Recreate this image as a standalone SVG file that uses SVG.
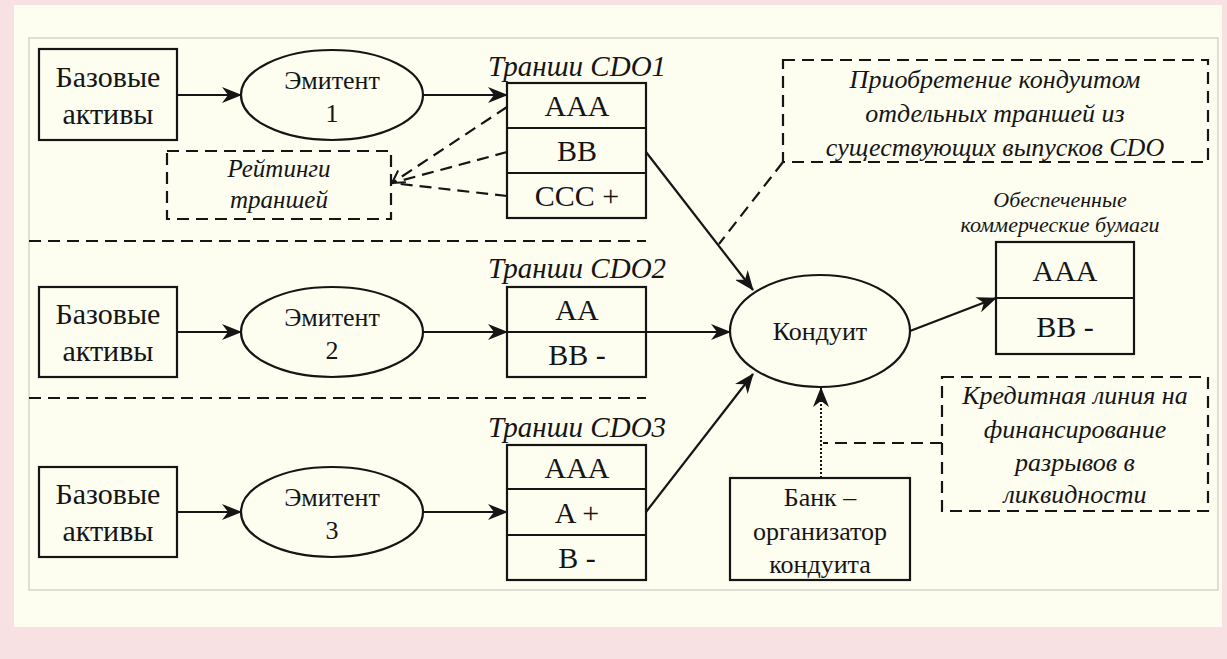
<svg xmlns="http://www.w3.org/2000/svg" width="1227" height="659" viewBox="0 0 1227 659">
<defs>
<style>
.t{font-family:"Liberation Serif","Times New Roman",serif;fill:#151515;text-anchor:middle}
.n{font-size:30px}
.e{font-size:26px}
.i{font-style:italic}
.box{fill:none;stroke:#151515;stroke-width:2.2}
.dash{fill:none;stroke:#151515;stroke-width:2.2;stroke-dasharray:12,7}
.ln{fill:none;stroke:#151515;stroke-width:2.2}
</style>
<marker id="ah" viewBox="0 0 20 16" refX="19" refY="8" markerWidth="20" markerHeight="16" markerUnits="userSpaceOnUse" orient="auto">
<path d="M0,0 L20,8 L0,16 L6,8 z" fill="#151515"/>
</marker>
<marker id="oa" viewBox="0 0 14 16" refX="13" refY="8" markerWidth="14" markerHeight="16" markerUnits="userSpaceOnUse" orient="auto">
<path d="M1,1 L13,8 L1,15" fill="none" stroke="#151515" stroke-width="2"/>
</marker>
</defs>
<rect x="0" y="0" width="1227" height="659" fill="#f8e1e3"/>
<rect x="14" y="5" width="1208" height="622" fill="#fdfdf0"/>
<rect x="29" y="38" width="1189" height="552" fill="none" stroke="#d3d6cb" stroke-width="1.5"/>

<g id="separators">
<line class="dash" x1="29" y1="241" x2="646" y2="241"/>
<line class="dash" x1="29" y1="398" x2="646" y2="398"/>
</g>

<g id="assets1">
<rect class="box" x="39" y="49" width="138" height="91"/>
<text class="t n" x="108" y="87">Базовые</text>
<text class="t n" x="108" y="124">активы</text>
</g>
<g id="issuer1">
<ellipse class="box" cx="332" cy="95" rx="91" ry="45"/>
<text class="t e" x="332" y="89">Эмитент</text>
<text class="t e" x="332" y="122">1</text>
</g>
<g id="cdo1">
<text class="t i" style="font-size:29px" x="577" y="76">Транши CDO1</text>
<rect class="box" x="507" y="83" width="139" height="135"/>
<line class="ln" x1="507" y1="128" x2="646" y2="128"/>
<line class="ln" x1="507" y1="173" x2="646" y2="173"/>
<text class="t n" x="577" y="116">AAA</text>
<text class="t n" x="577" y="161">BB</text>
<text class="t n" x="577" y="206">CCC +</text>
</g>
<g id="ratings">
<rect class="dash" x="167" y="151" width="224" height="68"/>
<text class="t i" style="font-size:25px" x="279" y="177">Рейтинги</text>
<text class="t i" style="font-size:25px" x="279" y="208">траншей</text>
</g>

<g id="assets2">
<rect class="box" x="39" y="287" width="138" height="90"/>
<text class="t n" x="108" y="324">Базовые</text>
<text class="t n" x="108" y="361">активы</text>
</g>
<g id="issuer2">
<ellipse class="box" cx="332" cy="332" rx="91" ry="45"/>
<text class="t e" x="332" y="326">Эмитент</text>
<text class="t e" x="332" y="359">2</text>
</g>
<g id="cdo2">
<text class="t i" style="font-size:29px" x="577" y="278">Транши CDO2</text>
<rect class="box" x="507" y="287" width="139" height="90"/>
<line class="ln" x1="507" y1="332" x2="646" y2="332"/>
<text class="t n" x="577" y="320">AA</text>
<text class="t n" x="577" y="365">BB -</text>
</g>

<g id="assets3">
<rect class="box" x="39" y="467" width="138" height="90"/>
<text class="t n" x="108" y="504">Базовые</text>
<text class="t n" x="108" y="541">активы</text>
</g>
<g id="issuer3">
<ellipse class="box" cx="332" cy="512" rx="91" ry="45"/>
<text class="t e" x="332" y="506">Эмитент</text>
<text class="t e" x="332" y="539">3</text>
</g>
<g id="cdo3">
<text class="t i" style="font-size:29px" x="577" y="437">Транши CDO3</text>
<rect class="box" x="507" y="445" width="139" height="135"/>
<line class="ln" x1="507" y1="489" x2="646" y2="489"/>
<line class="ln" x1="507" y1="535" x2="646" y2="535"/>
<text class="t n" x="577" y="478">AAA</text>
<text class="t n" x="577" y="523">A +</text>
<text class="t n" x="577" y="568">B -</text>
</g>

<g id="conduit">
<ellipse class="box" cx="820" cy="331" rx="90" ry="56"/>
<text class="t e" x="820" y="340">Кондуит</text>
</g>
<g id="acp">
<text class="t i" style="font-size:22px" x="1060" y="207">Обеспеченные</text>
<text class="t i" style="font-size:22px" x="1060" y="232">коммерческие бумаги</text>
<rect class="box" x="996" y="242" width="138" height="112"/>
<line class="ln" x1="996" y1="298" x2="1134" y2="298"/>
<text class="t n" x="1065" y="281">AAA</text>
<text class="t n" x="1065" y="337">BB -</text>
</g>
<g id="purchase">
<rect class="dash" x="783" y="60" width="425" height="102"/>
<text class="t i e" x="995" y="88">Приобретение кондуитом</text>
<text class="t i e" x="995" y="122">отдельных траншей из</text>
<text class="t i e" x="995" y="156">существующих выпусков CDO</text>
</g>
<g id="credit">
<rect class="dash" x="942" y="377" width="266" height="134"/>
<text class="t i e" x="1075" y="404">Кредитная линия на</text>
<text class="t i e" x="1075" y="438">финансирование</text>
<text class="t i e" x="1075" y="471">разрывов в</text>
<text class="t i e" x="1075" y="503">ликвидности</text>
</g>
<g id="bank">
<rect class="box" x="730" y="478" width="180" height="102"/>
<text class="t e" x="820" y="506">Банк –</text>
<text class="t e" x="820" y="540">организатор</text>
<text class="t e" x="820" y="573">кондуита</text>
</g>

<g id="connectors">
<line class="ln" x1="177" y1="95" x2="241" y2="95" marker-end="url(#ah)"/>
<line class="ln" x1="423" y1="95" x2="507" y2="95" marker-end="url(#ah)"/>
<line class="ln" x1="177" y1="332" x2="241" y2="332" marker-end="url(#ah)"/>
<line class="ln" x1="423" y1="332" x2="507" y2="332" marker-end="url(#ah)"/>
<line class="ln" x1="177" y1="512" x2="241" y2="512" marker-end="url(#ah)"/>
<line class="ln" x1="423" y1="512" x2="507" y2="512" marker-end="url(#ah)"/>
<line class="ln" x1="646" y1="152" x2="753" y2="290" marker-end="url(#ah)"/>
<line class="ln" x1="646" y1="332" x2="730" y2="332" marker-end="url(#ah)"/>
<line class="ln" x1="646" y1="512" x2="753" y2="374" marker-end="url(#ah)"/>
<line class="ln" x1="910" y1="331" x2="996" y2="298" marker-end="url(#ah)"/>
<line fill="none" stroke="#151515" stroke-width="2" stroke-dasharray="2,2" x1="821" y1="478" x2="821" y2="388" marker-end="url(#ah)"/>
<path class="dash" d="M507,107 L392,183" marker-end="url(#oa)"/>
<path class="dash" d="M507,152 L392,183"/>
<path class="dash" d="M507,196 L392,183"/>
<path class="dash" d="M783,162 L719,244"/>
<path class="dash" d="M942,443 L823,443"/>
</g>
</svg>
